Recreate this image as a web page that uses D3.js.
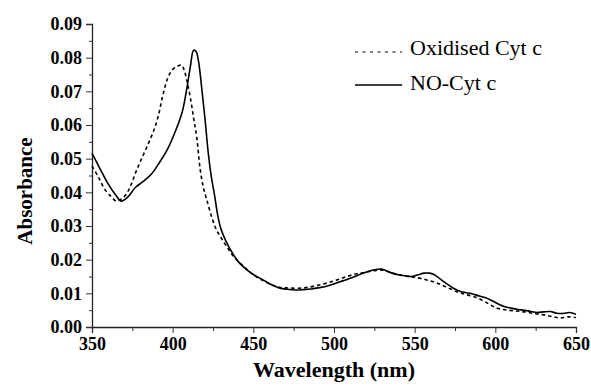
<!DOCTYPE html>
<html><head><meta charset="utf-8">
<script src="https://cdn.jsdelivr.net/npm/d3@7"></script>
<style>body{margin:0;background:#fff}svg{display:block}</style>
</head><body><svg id="c" width="591" height="390"></svg>
<script>
const xMajorTicks = [350, 400, 450, 500, 550, 600, 650];
const xMinorTicks = [375, 425, 475, 525, 575, 625];
const yMajorTicks = [0, 0.01, 0.02, 0.03, 0.04, 0.05, 0.06, 0.07, 0.08, 0.09];
const yMinorTicks = [0.005, 0.015, 0.025, 0.035, 0.045, 0.055, 0.065, 0.075, 0.085];
const seriesNames = ["Oxidised Cyt c", "NO-Cyt c"];

const oxWavelength = [350,354,358,362,365,368,371,374,377,380,384,388,391,394,397,400,403,405.5,407,409,411,413,415,417,419,421,424,427,430,434,438,444,450,456,462,467,472,478,484,490,496,502,508,514,520,526,530,535,540,546,552,558,564,570,576,582,588,594,600,606,612,618,624,630,636,640,645,650];
const oxAbsorbance = [0.0478,0.0445,0.0408,0.0387,0.0374,0.0380,0.0393,0.0420,0.0458,0.0492,0.0535,0.0580,0.0625,0.0690,0.0740,0.0765,0.0775,0.0778,0.0765,0.0728,0.0680,0.0620,0.0560,0.0470,0.0415,0.0380,0.0330,0.0290,0.0265,0.0235,0.0208,0.0180,0.0155,0.0138,0.0124,0.0117,0.0116,0.0115,0.0118,0.0124,0.0131,0.0140,0.0150,0.0158,0.0163,0.0168,0.0169,0.0162,0.0155,0.0150,0.0146,0.0139,0.0130,0.0118,0.0105,0.0096,0.0088,0.0074,0.0058,0.0051,0.0048,0.0045,0.0040,0.0036,0.0030,0.0027,0.0030,0.0028];

const noWavelength = [350,355,360,365,368,372,377,382,387,392,397,402,406,409,411,413,414.5,416,418,420,422,424,426,428,430,433,437,441,446,451,456,461,466,471,476,481,486,491,496,501,506,511,516,521,525,529,532,536,540,544,548,552,556,559,562,566,570,574,578,582,586,590,594,598,602,606,610,614,618,622,626,630,634,638,642,646,650];
const noAbsorbance = [0.0516,0.0470,0.0425,0.0390,0.0374,0.0385,0.0415,0.0433,0.0455,0.0490,0.0530,0.0585,0.0640,0.0715,0.0775,0.0822,0.0818,0.0790,0.0710,0.0620,0.0520,0.0445,0.0390,0.0330,0.0290,0.0255,0.0220,0.0192,0.0170,0.0153,0.0140,0.0126,0.0116,0.0112,0.0110,0.0111,0.0113,0.0117,0.0122,0.0130,0.0138,0.0146,0.0156,0.0165,0.0170,0.0172,0.0168,0.0160,0.0155,0.0152,0.0150,0.0155,0.0160,0.0160,0.0156,0.0142,0.0128,0.0115,0.0106,0.0102,0.0098,0.0092,0.0087,0.0078,0.0068,0.0060,0.0056,0.0052,0.0050,0.0046,0.0043,0.0045,0.0046,0.0041,0.0040,0.0043,0.0038];

const svg = d3.select("#c");
const x = d3.scaleLinear().domain([350, 650]).range([92, 576]);
const y = d3.scaleLinear().domain([0, 0.09]).range([327, 24]);
const serif = "'Liberation Serif','Times New Roman',serif";

// axes
const xAxis = svg.append("g").attr("transform", "translate(0,327)")
  .call(d3.axisBottom(x).tickValues(xMajorTicks).tickSize(6).tickPadding(4).tickFormat(d3.format("d")));
svg.append("g").attr("transform", "translate(0,327)")
  .call(d3.axisBottom(x).tickValues(xMinorTicks).tickSize(4).tickFormat(""))
  .select(".domain").remove();
const yAxis = svg.append("g").attr("transform", "translate(92,0)")
  .call(d3.axisLeft(y).tickValues(yMajorTicks).tickSize(6).tickPadding(4).tickFormat(d3.format(".2f")));
svg.append("g").attr("transform", "translate(92,0)")
  .call(d3.axisLeft(y).tickValues(yMinorTicks).tickSize(3).tickFormat(""))
  .select(".domain").remove();

svg.selectAll(".domain").attr("stroke", "#222").attr("stroke-width", 1.3);
svg.selectAll(".tick line").attr("stroke", "#333").attr("stroke-width", 1);
svg.selectAll(".tick text").attr("font-family", serif).attr("font-weight", "bold")
  .attr("font-size", 18).attr("fill", "#000");
yAxis.selectAll(".tick text").attr("dy", "0.32em");

// lines
const line = d3.line().x(d => x(d[0])).y(d => y(d[1])).curve(d3.curveCatmullRom.alpha(0.5));
const oxData = oxWavelength.map((w, i) => [w, oxAbsorbance[i]]);
const noData = noWavelength.map((w, i) => [w, noAbsorbance[i]]);

svg.append("path").datum(oxData).attr("d", line).attr("fill", "none")
  .attr("stroke", "#000").attr("stroke-width", 1.6).attr("stroke-dasharray", "3.5,3");
svg.append("path").datum(noData).attr("d", line).attr("fill", "none")
  .attr("stroke", "#000").attr("stroke-width", 1.6);

// legend
const leg = svg.append("g");
leg.append("line").attr("x1", 355).attr("x2", 402).attr("y1", 52).attr("y2", 52)
  .attr("stroke", "#000").attr("stroke-width", 1.2).attr("stroke-dasharray", "3,4.5");
leg.append("text").attr("x", 410).attr("y", 55).text(seriesNames[0])
  .attr("font-family", serif).attr("font-size", 22);
leg.append("line").attr("x1", 355).attr("x2", 402).attr("y1", 85).attr("y2", 85)
  .attr("stroke", "#000").attr("stroke-width", 1.3);
leg.append("text").attr("x", 410).attr("y", 90).text(seriesNames[1])
  .attr("font-family", serif).attr("font-size", 22);

// axis titles
svg.append("text").attr("x", 334).attr("y", 377).attr("text-anchor", "middle")
  .attr("font-family", serif).attr("font-weight", "bold").attr("font-size", 22)
  .text("Wavelength (nm)");
svg.append("text").attr("transform", "translate(32,191) rotate(-90)").attr("text-anchor", "middle")
  .attr("font-family", serif).attr("font-weight", "bold").attr("font-size", 21)
  .text("Absorbance");
</script></body></html>
